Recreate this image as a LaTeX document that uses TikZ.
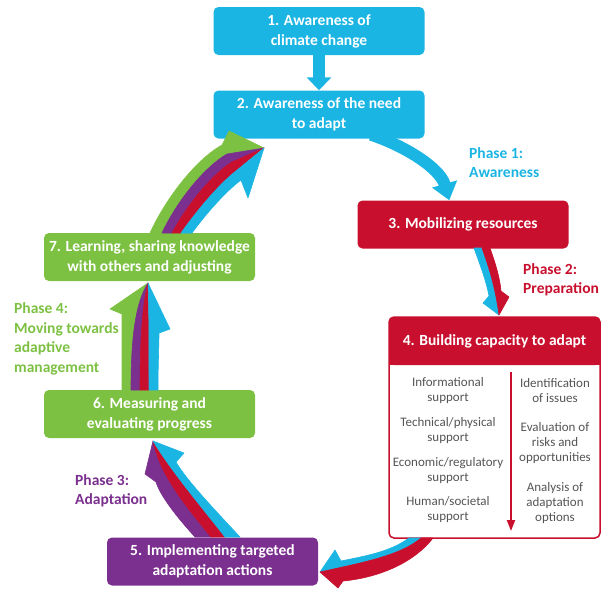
\documentclass[tikz,border=0pt]{standalone}
\usepackage{fontspec}
\setmainfont{Carlito}
\usetikzlibrary{arrows.meta,calc}

\definecolor{capcyan}{RGB}{27,181,227}
\definecolor{capred}{RGB}{200,16,46}
\definecolor{capgreen}{RGB}{125,193,67}
\definecolor{cappurple}{RGB}{123,47,142}
\definecolor{capgray}{RGB}{85,85,85}

\newcommand{\stagefont}{\bfseries\fontsize{15.5}{20}\selectfont}
\newcommand{\notefont}{\fontsize{13}{15}\selectfont}

\tikzset{
  stagebox/.style={rounded corners=5pt, minimum width=211pt, minimum height=48pt, inner sep=0pt, text=white, align=center, font=\stagefont},
  notetext/.style={align=center, text=capgray, font=\notefont, inner sep=0pt},
  phaselabel/.style={anchor=west, align=left, inner sep=0pt, font=\bfseries\fontsize{15.5}{19.5}\selectfont},
  ribbon/.style={line width=0.6pt, line join=round},
}

\begin{document}
\begin{tikzpicture}[x=1pt,y=1pt,yscale=-1,xscale=1]
\useasboundingbox (0,0) rectangle (613,590);

% Stage boxes
\node [stagebox, fill=capcyan] (n1) at (319,31) {1. Awareness of\\climate change};
\node [stagebox, fill=capcyan] (n2) at (319,114.5) {2. Awareness of the need\\to adapt};
\node [stagebox, fill=capred] (n3) at (463,224.5) {3. Mobilizing resources};
\node [stagebox, fill=cappurple] (n5) at (212.5,561.5) {5. Implementing targeted\\adaptation actions};
\node [stagebox, fill=capgreen] (n6) at (149.5,414) {6. Measuring and\\evaluating progress};
\node [stagebox, fill=capgreen] (n7) at (149.5,257) {7. Learning, sharing knowledge\\with others and adjusting};

% Stage 4 frame and header
\node [draw=capred, line width=1.5pt, fill=white, rounded corners=5pt, minimum width=211pt, minimum height=221pt, inner sep=0pt] (n4f) at (494.5,427.5) {};
\node [stagebox, fill=capred] (n4) at (494.5,341) {};
\fill [capred] ($(n4.south west)+(0,-10)$) rectangle (n4.south east);
\node [text=white, font=\stagefont, inner sep=0pt] (n4t) at (n4.center) {4. Building capacity to adapt};

% Stage 4 contents
\node [notetext] (i1) at (448,390.5) {Informational\\support};
\node [notetext] (i2) at (448,430.5) {Technical/physical\\support};
\node [notetext] (i3) at (448,470.5) {Economic/regulatory\\support};
\node [notetext] (i4) at (448,510) {Human/societal\\support};
\node [notetext] (o1) at (555,390.5) {Identification\\of issues};
\node [notetext] (o2) at (555,443) {Evaluation of\\risks and\\opportunities};
\node [notetext] (o3) at (555,503) {Analysis of\\adaptation\\options};
\coordinate (d4top) at (511,372);
\coordinate (d4bot) at (511,531);
\draw [capred, line width=2pt, -{Triangle[width=8pt,length=11pt]}] (d4top) -- (d4bot);

% Phase labels
\node [phaselabel, text=capcyan] (p1) at (469,162.5) {Phase 1:\\Awareness};
\node [phaselabel, text=capred] (p2) at (523,280) {Phase 2:\\Preparation};
\node [phaselabel, text=cappurple] (p3) at (75,491) {Phase 3:\\Adaptation};
\node [phaselabel, text=capgreen] (p4) at (14,339) {Phase 4:\\Moving towards\\adaptive\\management};

% Arrow: 1 to 2
\draw [capcyan, line width=12pt, -{Triangle[width=24pt,length=13pt]}] (n1.south) -- (n2.north);
% Arrow: 2 to 3
\draw [capcyan, line width=12pt, -{Triangle[width=25pt,length=17pt]}] ($(n2.south)+(52,-4)$) .. controls (405,146) and (440,168) .. ($(n3.north west)+(92,0)$);

% Ribbon: 3 to 4
\filldraw [ribbon, capcyan] (474,248) .. controls (480,265) and (486,280) .. (489,296) -- (483,303) -- (499,315) .. controls (495,285) and (488,265) .. (482,248) -- cycle;
\filldraw [ribbon, capred] (482,248) .. controls (488,265) and (495,285) .. (499,315) -- (509,297) -- (501,291) .. controls (500,278) and (495,262) .. (490,248) -- cycle;

% Ribbon: 4 to 5
\filldraw [ribbon, capcyan] (409,538) .. controls (390,552) and (365,556) .. (341,561) -- (335,550) -- (320,572) .. controls (360,563) and (400,556) .. (421,538) -- cycle;
\filldraw [ribbon, capred] (421,538) .. controls (400,556) and (360,563) .. (320,572) -- (338,588) -- (343,581) .. controls (375,578) and (412,565) .. (433,538) -- cycle;

% Ribbon: 5 to 6
\filldraw [ribbon, cappurple] (195,537) .. controls (175,515) and (160,495) .. (156,482) -- (145,474) -- (153,441) .. controls (160,475) and (185,505) .. (211,537) -- cycle;
\filldraw [ribbon, capred] (211,537) .. controls (185,505) and (160,475) .. (153,441) .. controls (172,472) and (200,505) .. (225,537) -- cycle;
\filldraw [ribbon, capcyan] (225,537) .. controls (200,505) and (172,472) .. (153,441) -- (184,453) -- (176,462) .. controls (185,478) and (210,505) .. (240,537) -- cycle;

% Ribbon: 6 to 7
\filldraw [ribbon, capgreen] (122,390) -- (122,314) -- (110,309) -- (148,283) .. controls (134,305) and (131,345) .. (131,390) -- cycle;
\filldraw [ribbon, cappurple] (131,390) .. controls (131,345) and (134,305) .. (148,283) .. controls (142,305) and (140,345) .. (140,390) -- cycle;
\filldraw [ribbon, capred] (140,390) .. controls (140,345) and (142,305) .. (148,283) .. controls (149,305) and (149,345) .. (149,390) -- cycle;
\filldraw [ribbon, capcyan] (149,390) .. controls (149,345) and (149,305) .. (148,283) -- (170,329) -- (159,333) .. controls (159,345) and (158,365) .. (158,390) -- cycle;

% Ribbon: 7 to 2
\filldraw [ribbon, capgreen] (150,233) .. controls (165,200) and (195,160) .. (222,145) -- (229,131) -- (264,148) -- (227,154) .. controls (203,168) and (176,203) .. (162,233) -- cycle;
\filldraw [ribbon, cappurple] (162,233) .. controls (176,203) and (203,168) .. (227,154) -- (264,148) -- (232,162) .. controls (210,176) and (186,207) .. (172,233) -- cycle;
\filldraw [ribbon, capred] (172,233) .. controls (186,207) and (210,176) .. (232,162) -- (264,148) -- (236,171) .. controls (218,185) and (196,212) .. (181,233) -- cycle;
\filldraw [ribbon, capcyan] (181,233) .. controls (196,212) and (218,185) .. (236,171) -- (264,148) -- (248,198) -- (241,180) .. controls (225,192) and (205,215) .. (192,233) -- cycle;

\end{tikzpicture}
\end{document}
